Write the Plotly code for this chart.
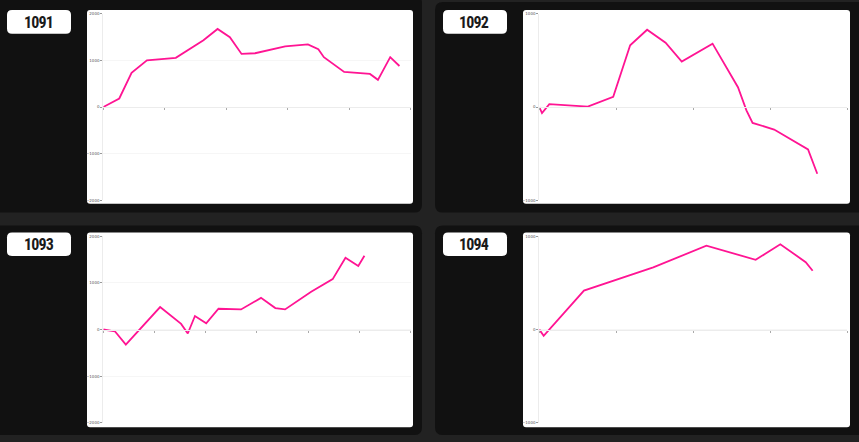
import plotly.graph_objects as go

W, H = 859, 442

# ---------------- data ----------------
titles = ["1091", "1092", "1093", "1094"]

x_1091 = [0, 2.6, 4.6, 7.1, 11.8, 16.3, 18.6, 20.6, 22.5, 24.7, 29.6, 33.3, 35.0, 35.9, 39.2, 43.4, 44.7, 46.7, 48.2]
y_1091 = [0, 184, 733, 1001, 1056, 1436, 1677, 1500, 1140, 1155, 1303, 1345, 1240, 1071, 754, 711, 585, 1071, 881]

x_1092 = [0, 0.35, 1.3, 6.3, 9.6, 11.8, 14.0, 16.4, 18.5, 22.5, 25.8, 26.9, 27.7, 30.5, 34.9, 35.6, 36.1]
y_1092 = [0, -64, 32, 4, 110, 663, 830, 691, 489, 681, 213, -35, -170, -241, -454, -603, -716]

x_1093 = [0, 2.3, 4.4, 11.1, 15.2, 16.5, 17.9, 20.1, 22.5, 26.9, 30.8, 33.6, 35.5, 40.6, 44.8, 47.3, 49.8, 51.0]
y_1093 = [0, -42, -325, 481, 120, -85, 290, 134, 445, 431, 679, 460, 431, 812, 1082, 1542, 1364, 1584]

x_1094 = [0, 0.57, 5.8, 14.8, 21.7, 28.1, 31.3, 34.6, 35.5]
y_1094 = [0, -67, 418, 666, 900, 748, 915, 723, 631]

y_limits = [2000, 1000, 2000, 1000]
x_limits = [50, 40, 60, 40]
y_ticks_1091 = [-2000, -1000, 0, 1000, 2000]
y_ticks_1092 = [-1000, 0, 1000]

series = [(x_1091, y_1091), (x_1092, y_1092), (x_1093, y_1093), (x_1094, y_1094)]
y_tick_sets = [y_ticks_1091, y_ticks_1092, y_ticks_1091, y_ticks_1092]

# ---------------- layout geometry (pixels) ----------------
PINK = "#ff1493"
BG = "#222222"
PANEL = "#111111"

panels = [(-8, -8, 422, 212), (435, -1, 875, 212), (-8, 225, 422, 437), (435, 225, 875, 437)]
whites = [(87, 7, 413, 203), (523, 7, 850, 203), (87, 232, 413, 429), (523, 232, 850, 429)]
labels = [(7, 7, 71, 31), (443, 7, 507, 31), (7, 232, 71, 256), (443, 232, 507, 256)]
plot_boxes = [(103.3, 11, 410.5, 199.5), (539.3, 11, 847.3, 199.5),
              (103.3, 236, 410.5, 424.5), (539.3, 236, 847.3, 424.5)]


def px(x):
    return x / W


def py(y):
    return 1 - y / H


def rrect(x0, y0, x1, y1, r):
    rx, ry = r / W, r / H
    X0, X1 = px(x0), px(x1)
    Y0, Y1 = py(y0), py(y1)  # Y0 top (larger), Y1 bottom
    return (f"M {X0+rx},{Y0} L {X1-rx},{Y0} Q {X1},{Y0} {X1},{Y0-ry} "
            f"L {X1},{Y1+ry} Q {X1},{Y1} {X1-rx},{Y1} "
            f"L {X0+rx},{Y1} Q {X0},{Y1} {X0},{Y1+ry} "
            f"L {X0},{Y0-ry} Q {X0},{Y0} {X0+rx},{Y0} Z")


fig = go.Figure()
shapes = []
annotations = []
layout_axes = {}

for i in range(4):
    shapes.append(dict(type="path", path=rrect(*panels[i], 8), xref="paper", yref="paper",
                       fillcolor=PANEL, line=dict(width=0), layer="below"))
    shapes.append(dict(type="path", path=rrect(*whites[i], 3), xref="paper", yref="paper",
                       fillcolor="white", line=dict(width=0), layer="below"))
    shapes.append(dict(type="path", path=rrect(*labels[i], 5), xref="paper", yref="paper",
                       fillcolor="white", line=dict(width=0), layer="below"))
    lx0, ly0, lx1, ly1 = labels[i]
    annotations.append(dict(text=f"<span style=\"font-stretch:75%;letter-spacing:-0.8px\"><b>{titles[i]}</b></span>",
                            x=px((lx0 + lx1) / 2 - 0.5), y=py((ly0 + ly1) / 2 + 0.5),
                            xref="paper", yref="paper", showarrow=False, xanchor="center", yanchor="middle",
                            font=dict(family="Roboto, sans-serif", size=16, color="#1a1a1a")))

    bx0, by0, bx1, by1 = plot_boxes[i]
    n = "" if i == 0 else str(i + 1)
    xa, ya = "xaxis" + n, "yaxis" + n
    ydom = [py(by1), py(by0)]
    layout_axes[xa] = dict(domain=[px(bx0), px(bx1)], range=[0, x_limits[i]], dtick=10,
                           anchor="free", position=(ydom[0] + ydom[1]) / 2,
                           showline=True, linecolor="#ececec", linewidth=1,
                           ticks="outside", ticklen=2, tickcolor="#aaaaaa", tickwidth=0.6,
                           showticklabels=False, showgrid=False, zeroline=False, fixedrange=True)
    layout_axes[ya] = dict(domain=ydom, range=[-y_limits[i], y_limits[i]], tickvals=y_tick_sets[i],
                           anchor="x" + n, showline=True, linecolor="#ececec", linewidth=1,
                           ticks="outside", ticklen=2, tickcolor="#999999", tickwidth=0.6,
                           tickfont=dict(size=4, color="#555555", family="DejaVu Sans"),
                           showgrid=True, gridcolor="#f6f6f6", gridwidth=1, zeroline=False,
                           fixedrange=True)

    xs, ys = series[i]
    fig.add_trace(go.Scatter(x=xs, y=ys, mode="lines", line=dict(color=PINK, width=1.8),
                             xaxis="x" + n, yaxis="y" + n, showlegend=False, hoverinfo="skip"))

fig.update_layout(width=W, height=H, margin=dict(l=0, r=0, t=0, b=0),
                  paper_bgcolor=BG, plot_bgcolor="rgba(0,0,0,0)",
                  shapes=shapes, annotations=annotations, showlegend=False, **layout_axes)

fig.write_html("out.html", config={"displayModeBar": False},
               post_script="document.body.style.margin='0';document.body.style.overflow='hidden';")
